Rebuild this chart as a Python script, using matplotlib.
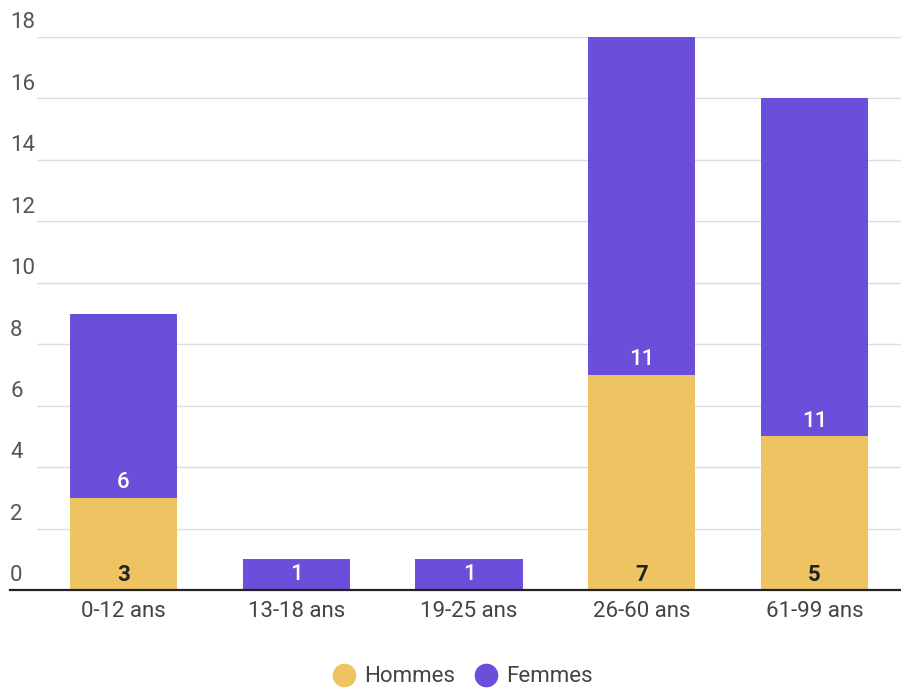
import matplotlib.pyplot as plt
from matplotlib.lines import Line2D
import numpy as np

# Data
categories = ['0-12 ans', '13-18 ans', '19-25 ans', '26-60 ans', '61-99 ans']
hommes = [3, 0, 0, 7, 5]
femmes = [6, 1, 1, 11, 11]
y_ticks = [0, 2, 4, 6, 8, 10, 12, 14, 16, 18]

col_h = '#EEC462'
col_f = '#6B4ED9'

plt.rcParams['font.family'] = ['Roboto', 'DejaVu Sans']
fs = 16

fig = plt.figure(figsize=(9.01, 6.91), dpi=100)
ax = fig.add_axes([37 / 901, 101 / 691, 864 / 901, 553 / 691])

x = np.arange(len(categories))
width = 0.62
ax.bar(x, hommes, width, color=col_h, zorder=2)
ax.bar(x, femmes, width, bottom=hommes, color=col_f, zorder=2)

ax.set_xlim(-0.5, 4.5)
ax.set_ylim(0, 18)

# horizontal grid lines
for t in y_ticks[1:]:
    ax.axhline(t, color='#dddddd', lw=1, zorder=1)

# y tick labels sitting above the grid lines, at the far left
for t in y_ticks:
    ax.text(-0.031, t + 0.12, str(t), transform=ax.get_yaxis_transform(),
            ha='left', va='bottom', fontsize=fs, color='#555555',
            clip_on=False)

# baseline
ax.plot([-0.031, 1.0], [0, 0], transform=ax.get_yaxis_transform(),
        color='#222222', lw=1.6, clip_on=False, zorder=3)

# value labels
off = 0.5
for i in range(len(categories)):
    if hommes[i] > 0:
        ax.text(x[i], off, str(hommes[i]), ha='center', va='center',
                fontsize=fs, fontweight='bold', color='#222222', zorder=4)
    ax.text(x[i], hommes[i] + off, str(femmes[i]), ha='center', va='center',
            fontsize=fs, fontweight='medium', color='white', zorder=4)

ax.set_yticks([])
ax.set_xticks(x)
ax.set_xticklabels(categories, fontsize=fs, color='#444444')
ax.tick_params(axis='x', length=0, pad=8)
for s in ax.spines.values():
    s.set_visible(False)

handles = [Line2D([], [], marker='o', ls='', markersize=16, color=col_h),
           Line2D([], [], marker='o', ls='', markersize=16, color=col_f)]
fig.legend(handles, ['Hommes', 'Femmes'], loc='center', ncol=2,
           bbox_to_anchor=(462 / 901, 14 / 691), frameon=False,
           fontsize=fs, labelcolor='#444444', handletextpad=0.3,
           columnspacing=0.8, handlelength=1.2)

fig.savefig('out.png', dpi=100)
